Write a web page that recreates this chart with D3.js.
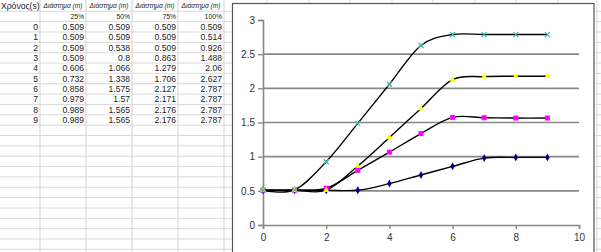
<!DOCTYPE html>
<html>
<head>
<meta charset="utf-8">
<script src="https://cdn.jsdelivr.net/npm/d3@7"></script>
<style>
  body { margin: 0; background: #fff; }
  svg { display: block; font-family: Arial, "Liberation Sans", sans-serif; }
</style>
</head>
<body>
<div id="sheet"></div>
<script>
// data read from the spreadsheet
const times = [0, 1, 2, 3, 4, 5, 6, 7, 8, 9];
const dist25 = [0.509, 0.509, 0.509, 0.509, 0.606, 0.732, 0.858, 0.979, 0.989, 0.989];
const dist50 = [0.509, 0.509, 0.538, 0.8, 1.066, 1.338, 1.575, 1.57, 1.565, 1.565];
const dist75 = [0.509, 0.509, 0.509, 0.863, 1.279, 1.706, 2.127, 2.171, 2.176, 2.176];
const dist100 = [0.509, 0.514, 0.926, 1.488, 2.06, 2.627, 2.787, 2.787, 2.787, 2.787];
const seriesNames = ["25%", "50%", "75%", "100%"];
const timeHeader = "Χρόνος(s)";
const distHeader = "Διάστημα (m)";
const xTicks = [0, 2, 4, 6, 8, 10];
const yTicks = [0, 0.5, 1, 1.5, 2, 2.5, 3];

const W = 601, H = 252;
const svg = d3.select("#sheet").append("svg").attr("width", W).attr("height", H);

/************ spreadsheet grid *****************/
const colEdges = [40, 86, 132, 178, 224];
const rowH = 10.35, row0 = 11.3;
const gridColor = "#d9d9d9";

for (let i = 0; i < 24; i++) {
  const y = row0 + i * rowH;
  svg.append("line").attr("x1", 0).attr("x2", W).attr("y1", y).attr("y2", y)
    .attr("stroke", gridColor).attr("stroke-width", 1);
}
colEdges.forEach(x => {
  svg.append("line").attr("x1", x).attr("x2", x).attr("y1", 0).attr("y2", H)
    .attr("stroke", gridColor).attr("stroke-width", 1.2);
});
[267, 309, 350, 392, 433, 475, 516, 558, 597].forEach(x => {
  svg.append("line").attr("x1", x).attr("x2", x).attr("y1", 0).attr("y2", H)
    .attr("stroke", gridColor).attr("stroke-width", 1);
});

// table text
const series = [dist25, dist50, dist75, dist100];
svg.append("text").attr("x", 1).attr("y", row0 - 2.5)
  .attr("font-size", 8.6).attr("fill", "#222").text(timeHeader);
seriesNames.forEach((name, i) => {
  svg.append("text").attr("x", colEdges[i] + 23).attr("y", row0 - 3)
    .attr("text-anchor", "middle").attr("font-size", 6.6).attr("font-style", "italic")
    .attr("fill", "#222").text(distHeader);
  svg.append("text").attr("x", colEdges[i + 1] - 2).attr("y", row0 + rowH - 2.5)
    .attr("text-anchor", "end").attr("font-size", 6.8).attr("fill", "#222").text(name);
});
times.forEach((t, r) => {
  const y = row0 + (r + 2) * rowH - 2;
  svg.append("text").attr("x", colEdges[0] - 2).attr("y", y)
    .attr("text-anchor", "end").attr("font-size", 8.6).attr("fill", "#222").text(t);
  series.forEach((s, i) => {
    svg.append("text").attr("x", colEdges[i + 1] - 2).attr("y", y)
      .attr("text-anchor", "end").attr("font-size", 8.6).attr("fill", "#222").text(s[r]);
  });
});

/************ chart *****************/
svg.append("rect").attr("x", 232.5).attr("y", 3.5).attr("width", 361.5).attr("height", H + 10)
  .attr("fill", "#fff").attr("stroke", "#555").attr("stroke-width", 1.2);

const x = d3.scaleLinear().domain([0, 10]).range([263, 579]);
const y = d3.scaleLinear().domain([0, 3]).range([225, 20]);
const axisColor = "#888";

// horizontal gridlines
svg.selectAll("line.grid").data(yTicks.filter(v => v > 0 && v < 3)).enter().append("line")
  .attr("class", "grid")
  .attr("x1", x(0)).attr("x2", x(10))
  .attr("y1", d => y(d)).attr("y2", d => y(d))
  .attr("stroke", axisColor).attr("stroke-width", 1.6);

const yAxis = svg.append("g").attr("transform", `translate(${x(0)},0)`)
  .call(d3.axisLeft(y).tickValues(yTicks).tickSize(5).tickPadding(3).tickFormat(d3.format("")));
const xAxis = svg.append("g").attr("transform", `translate(0,${y(0)})`)
  .call(d3.axisBottom(x).tickValues(xTicks).tickSize(4).tickPadding(5).tickFormat(d3.format("")));
[yAxis, xAxis].forEach(g => {
  g.select(".domain").attr("stroke", axisColor).attr("stroke-width", 1.6);
  g.selectAll(".tick line").attr("stroke", axisColor).attr("stroke-width", 1.4);
  g.selectAll(".tick text").attr("font-size", 10).attr("fill", "#333")
    .attr("font-family", "Arial, 'Liberation Sans', sans-serif");
});

const line = d3.line()
  .x((d, i) => x(times[i]))
  .y(d => y(d))
  .curve(d3.curveCardinal.tension(0));

series.forEach(s => {
  svg.append("path").datum(s).attr("d", line)
    .attr("fill", "none").attr("stroke", "#000").attr("stroke-width", 1.4);
});

// markers
const pts = s => s.map((v, i) => [x(times[i]), y(v)]);

svg.selectAll("path.m25").data(pts(dist25)).enter().append("path")
  .attr("transform", d => `translate(${d[0]},${d[1]})`)
  .attr("d", d3.symbol(d3.symbolDiamond, 18)).attr("fill", "#000080");

svg.selectAll("rect.m50").data(pts(dist50)).enter().append("rect")
  .attr("x", d => d[0] - 2.5).attr("y", d => d[1] - 2.5)
  .attr("width", 5).attr("height", 5).attr("fill", "#ff00ff");

svg.selectAll("path.m75").data(pts(dist75)).enter().append("path")
  .attr("transform", d => `translate(${d[0]},${d[1]})`)
  .attr("d", d3.symbol(d3.symbolTriangle, 16)).attr("fill", "#ffff00");

svg.selectAll("path.m100").data(pts(dist100)).enter().append("path")
  .attr("transform", d => `translate(${d[0]},${d[1]})`)
  .attr("d", "M-2.5,-2.5L2.5,2.5M-2.5,2.5L2.5,-2.5")
  .attr("stroke", "#3cb4b4").attr("stroke-width", 1.2).attr("fill", "none");
</script>
</body>
</html>
